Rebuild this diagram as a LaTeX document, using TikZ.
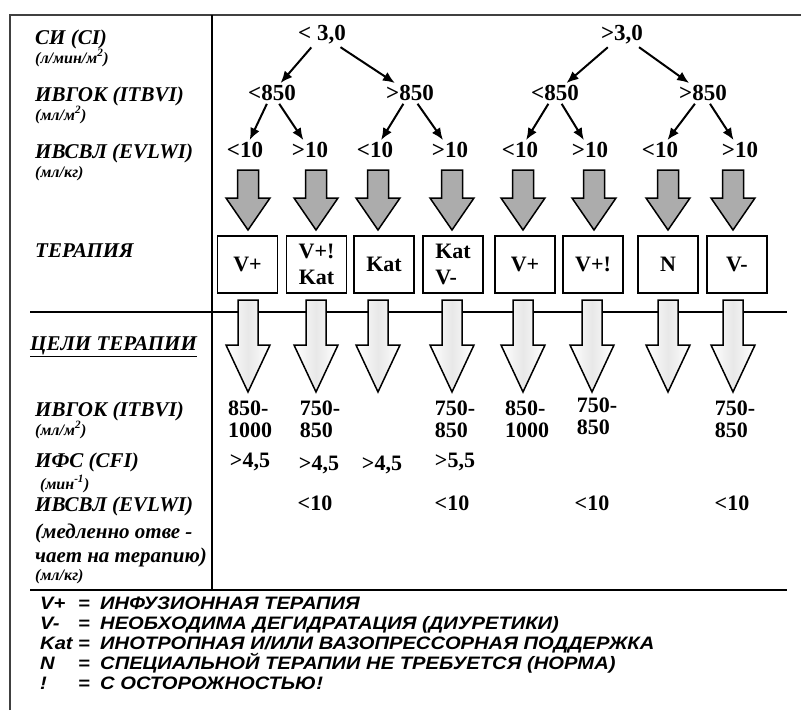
\documentclass[tikz,border=0pt]{standalone}
\usepackage{fontspec}
\setmainfont{Liberation Serif}
\newfontfamily\legendfont[FakeStretch=1.12]{Liberation Sans}
\usetikzlibrary{arrows.meta, positioning}

\begin{document}
\begin{tikzpicture}[x=1pt, y=-1pt,
    lbl/.style={anchor=base west, inner sep=0pt, font=\fontsize{21}{24}\selectfont\bfseries\itshape},
    unit/.style={anchor=base west, inner sep=0pt, font=\fontsize{16}{18}\selectfont\bfseries\itshape},
    num/.style={inner sep=2pt, font=\fontsize{23}{26}\selectfont\bfseries},
    val/.style={inner sep=0pt, align=left, font=\fontsize{22}{22}\selectfont\bfseries},
    tbox/.style={draw, line width=1.6pt, minimum width=60pt, minimum height=57pt, inner sep=0pt, align=center, font=\fontsize{22}{26}\selectfont\bfseries},
    tarrow/.style={-{Latex[length=12pt,width=10pt]}, line width=2pt, shorten <=1pt, shorten >=0pt},
    garrow/.style={draw, line width=1.5pt, fill=gray!65, line join=miter},
    warrow/.style={draw, line width=1.5pt, left color=white, right color=white, middle color=gray!18},
    leg/.style={anchor=base west, inner sep=0pt, font=\fontsize{18}{20}\selectfont\legendfont\bfseries\itshape},
  ]
  \useasboundingbox (0,0) rectangle (801,710);
  % frame and rules
  \draw[line width=1.2pt, black!75] (10,710) -- (10,15) -- (801,15);
  \draw[line width=2.4pt] (212,15) -- (212,590);
  \draw[line width=2pt] (30,312) -- (787,312);
  \draw[line width=2.8pt] (30,590) -- (787,590);

  % left column
  \node[lbl] (ci) at (35,44) {СИ (CI)};
  \node[unit] (ciu) at (35,63) {(л/мин/м\textsuperscript{2})};
  \node[lbl] (itbvi) at (35,101) {ИВГОК (ITBVI)};
  \node[unit] (itbviu) at (35,120) {(мл/м\textsuperscript{2})};
  \node[lbl] (evlwi) at (35,158) {ИВСВЛ (EVLWI)};
  \node[unit] (evlwiu) at (35,177) {(мл/кг)};
  \node[lbl] (ther) at (35,257) {ТЕРАПИЯ};
  \node[lbl] (goals) at (30,350) {\underline{ЦЕЛИ ТЕРАПИИ}};
  \node[lbl] (gitbvi) at (35,416) {ИВГОК (ITBVI)};
  \node[unit] (gitbviu) at (35,435) {(мл/м\textsuperscript{2})};
  \node[lbl] (gcfi) at (35,467) {ИФС (CFI)};
  \node[unit] (gcfiu) at (40,489) {(мин\textsuperscript{-1})};
  \node[lbl] (gevlwi) at (35,511) {ИВСВЛ (EVLWI)};
  \node[lbl] (slow1) at (35,538) {(медленно отве -};
  \node[lbl] (slow2) at (35,562) {чает на терапию)};
  \node[unit] (gevlwiu) at (35,580) {(мл/кг)};

  % decision tree
  \node[num] (a1) at (322,35) {< 3,0};
  \node[num] (a2) at (622,35) {>3,0};
  \node[num] (b1) at (272,93) {<850};
  \node[num] (b2) at (410,93) {>850};
  \node[num] (b3) at (555,93) {<850};
  \node[num] (b4) at (703,93) {>850};
  \node[num] (c1) at (245,150) {<10};
  \node[num] (c2) at (310,150) {>10};
  \node[num] (c3) at (375,150) {<10};
  \node[num] (c4) at (450,150) {>10};
  \node[num] (c5) at (520,150) {<10};
  \node[num] (c6) at (590,150) {>10};
  \node[num] (c7) at (660,150) {<10};
  \node[num] (c8) at (740,150) {>10};
  \foreach \p/\q in {a1/b1, a1/b2, a2/b3, a2/b4, b1/c1, b1/c2, b2/c3, b2/c4, b3/c5, b3/c6, b4/c7, b4/c8}
    \draw[tarrow] (\p) -- (\q);

  % gray block arrows
  \foreach \x in {248,316,378,452,523,594,668,733}
    \draw[garrow] (\x-10.5,170) -- (\x+10.5,170) -- (\x+10.5,198) -- (\x+22,198)
      -- (\x,230) -- (\x-22,198) -- (\x-10.5,198) -- cycle;

  % therapy boxes
  \node[tbox] (t1) at (247.5,264.5) {V+};
  \node[tbox] (t2) at (316.5,264.5) {V+!\\Kat};
  \node[tbox] (t3) at (384,264.5) {Kat};
  \node[tbox, align=left] (t4) at (453,264.5) {Kat\\V-};
  \node[tbox] (t5) at (525,264.5) {V+};
  \node[tbox] (t6) at (593,264.5) {V+!};
  \node[tbox] (t7) at (668,264.5) {N};
  \node[tbox] (t8) at (737,264.5) {V-};

  % white block arrows
  \foreach \x in {248,316,378,452,523,592,668,733}
    \draw[warrow] (\x-10,300) -- (\x+10,300) -- (\x+10,345) -- (\x+22,345)
      -- (\x,392) -- (\x-22,345) -- (\x-10,345) -- cycle;

  % goal values
  \node[val] (g1) at (250,419) {850-\\1000};
  \node[val] (g2) at (320,419) {750-\\850};
  \node[val] (g4) at (455,419) {750-\\850};
  \node[val] (g5) at (527,419) {850-\\1000};
  \node[val] (g6) at (597,416) {750-\\850};
  \node[val] (g8) at (735,419) {750-\\850};
  \node[val] (f1) at (250,462) {>4,5};
  \node[val] (f2) at (319,465) {>4,5};
  \node[val] (f3) at (382,465) {>4,5};
  \node[val] (f4) at (455,462) {>5,5};
  \node[val] (e2) at (315,503) {<10};
  \node[val] (e4) at (452,503) {<10};
  \node[val] (e6) at (592,503) {<10};
  \node[val] (e8) at (732,503) {<10};

  % legend
  \node[leg] (k1) at (40,609) {V+};
  \node[leg] (k2) at (40,629) {V-};
  \node[leg] (k3) at (40,649) {Kat};
  \node[leg] (k4) at (40,669) {N};
  \node[leg] (k5) at (40,689) {!};
  \foreach \i in {1,...,5}
    \node[leg] (q\i) at (78,589+20*\i) {=};
  \node[leg] (d1) at (100,609) {ИНФУЗИОННАЯ ТЕРАПИЯ};
  \node[leg] (d2) at (100,629) {НЕОБХОДИМА ДЕГИДРАТАЦИЯ (ДИУРЕТИКИ)};
  \node[leg] (d3) at (100,649) {ИНОТРОПНАЯ И/ИЛИ ВАЗОПРЕССОРНАЯ ПОДДЕРЖКА};
  \node[leg] (d4) at (100,669) {СПЕЦИАЛЬНОЙ ТЕРАПИИ НЕ ТРЕБУЕТСЯ (НОРМА)};
  \node[leg] (d5) at (100,689) {С ОСТОРОЖНОСТЬЮ!};
\end{tikzpicture}
\end{document}
